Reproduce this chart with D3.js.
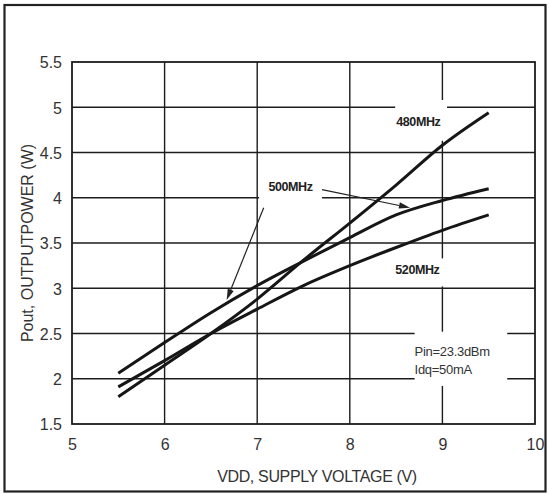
<!DOCTYPE html>
<html>
<head>
<meta charset="utf-8">
<script src="https://cdn.jsdelivr.net/npm/d3@7"></script>
<style>
html,body{margin:0;padding:0;background:#fff;}
svg{display:block;font-family:"Liberation Sans",Arial,sans-serif;}
</style>
</head>
<body>
<svg id="chart" width="549" height="494"></svg>
<script>
// ---- data ----
const vdd = [5.5, 6, 6.5, 7, 7.5, 8, 8.5, 9, 9.5];
const p480 = [1.80, 2.15, 2.50, 2.88, 3.31, 3.72, 4.14, 4.58, 4.94];
const p500 = [2.06, 2.40, 2.73, 3.03, 3.30, 3.56, 3.81, 3.97, 4.10];
const p520 = [1.91, 2.20, 2.50, 2.77, 3.03, 3.25, 3.45, 3.64, 3.81];
const xTicks = [5, 6, 7, 8, 9, 10];
const yTicks = [1.5, 2, 2.5, 3, 3.5, 4, 4.5, 5, 5.5];
const yTickLabels = ["1.5", "2", "2.5", "3", "3.5", "4", "4.5", "5", "5.5"];
const xTitle = "VDD, SUPPLY VOLTAGE (V)";
const yTitle = "Pout, OUTPUTPOWER (W)";
const seriesLabels = ["480MHz", "500MHz", "520MHz"];
const noteLines = ["Pin=23.3dBm", "Idq=50mA"];

// ---- layout ----
const svg = d3.select("#chart");
const x = d3.scaleLinear().domain([5, 10]).range([72, 535]);
const y = d3.scaleLinear().domain([1.5, 5.5]).range([424, 62]);
const ink = "#1c1c1c";

// outer frame
svg.append("rect").attr("x", 4.5).attr("y", 5).attr("width", 541).attr("height", 486.5)
  .attr("fill", "none").attr("stroke", "#222").attr("stroke-width", 2.2);

const g = svg.append("g");
// grid
g.selectAll("line.v").data(xTicks.slice(1, -1)).join("line")
  .attr("x1", d => x(d)).attr("x2", d => x(d)).attr("y1", y(5.5)).attr("y2", y(1.5))
  .attr("stroke", ink).attr("stroke-width", 1.4);
g.selectAll("line.h").data(yTicks.slice(1, -1)).join("line")
  .attr("x1", x(5)).attr("x2", x(10)).attr("y1", d => y(d)).attr("y2", d => y(d))
  .attr("stroke", ink).attr("stroke-width", 1.4);
g.append("rect").attr("x", x(5)).attr("y", y(5.5)).attr("width", x(10) - x(5)).attr("height", y(1.5) - y(5.5))
  .attr("fill", "none").attr("stroke", ink).attr("stroke-width", 1.8);

// axes (tick labels via d3 axis)
const xAxis = d3.axisBottom(x).tickValues(xTicks).tickSize(0).tickPadding(0).tickFormat(d3.format("d"));
const xa = svg.append("g").attr("transform", `translate(0,${y(1.5) + 26})`).call(xAxis);
xa.select(".domain").remove();
xa.selectAll("text").attr("font-size", 16).attr("fill", "#333").attr("font-family", "Liberation Sans, Arial, sans-serif").attr("dy", 0);

const yAxis = d3.axisLeft(y).tickValues(yTicks).tickSize(0).tickPadding(0).tickFormat((d, i) => yTickLabels[i]);
const ya = svg.append("g").attr("transform", `translate(${x(5) - 10},0)`).call(yAxis);
ya.select(".domain").remove();
ya.selectAll("text").attr("font-size", 16).attr("fill", "#333").attr("font-family", "Liberation Sans, Arial, sans-serif").attr("dy", "0.36em");

// axis titles
svg.append("text").attr("x", 317).attr("y", 482).attr("text-anchor", "middle")
  .attr("font-size", 16).attr("fill", "#333").attr("letter-spacing", -0.35).text(xTitle);
svg.append("text").attr("transform", "translate(33,243) rotate(-90)").attr("text-anchor", "middle")
  .attr("font-size", 16).attr("fill", "#333").attr("letter-spacing", 0).text(yTitle);

// white label boxes breaking the grid
const boxes = [
  [8.49, 5.08, 9.05, 4.63],
  [7.02, 4.25, 7.70, 3.97],
  [8.46, 3.33, 9.03, 3.02],
  [8.70, 2.52, 9.70, 1.92]
];
svg.selectAll("rect.box").data(boxes).join("rect")
  .attr("x", d => x(d[0])).attr("y", d => y(d[1]))
  .attr("width", d => x(d[2]) - x(d[0])).attr("height", d => y(d[3]) - y(d[1]))
  .attr("fill", "#fff");

// curves
const line = d3.line().x(d => x(d[0])).y(d => y(d[1])).curve(d3.curveMonotoneX);
[p480, p500, p520].forEach(s => {
  svg.append("path").attr("d", line(vdd.map((v, i) => [v, s[i]])))
    .attr("fill", "none").attr("stroke", "#161616").attr("stroke-width", 3).attr("stroke-linecap", "butt");
});

// arrows
const arrows = [
  [7.07, 3.89, 6.67, 2.87],
  [7.70, 4.09, 8.65, 3.89]
];
arrows.forEach(a => {
  const x1 = x(a[0]), y1 = y(a[1]), x2 = x(a[2]), y2 = y(a[3]);
  const ang = Math.atan2(y2 - y1, x2 - x1);
  const L = 11, W = 3.2;
  const bx = x2 - L * Math.cos(ang), by = y2 - L * Math.sin(ang);
  svg.append("line").attr("x1", x1).attr("y1", y1).attr("x2", bx).attr("y2", by)
    .attr("stroke", "#222").attr("stroke-width", 1.2);
  const px = -Math.sin(ang) * W, py = Math.cos(ang) * W;
  svg.append("path").attr("d", `M${x2},${y2}L${bx + px},${by + py}L${bx - px},${by - py}Z`).attr("fill", "#222");
});

// series labels
const labelPos = [[8.74, 4.84], [7.36, 4.12], [8.73, 3.21]];
svg.selectAll("text.sl").data(seriesLabels).join("text")
  .attr("x", (d, i) => x(labelPos[i][0])).attr("y", (d, i) => y(labelPos[i][1]))
  .attr("dy", "0.35em").attr("text-anchor", "middle")
  .attr("font-size", 12.5).attr("font-weight", "bold").attr("letter-spacing", -0.4)
  .attr("fill", "#222").text(d => d);

// note
svg.selectAll("text.note").data(noteLines).join("text")
  .attr("x", x(8.70)).attr("y", (d, i) => y(2.30) + i * 18)
  .attr("dy", "0.35em").attr("font-size", 13).attr("letter-spacing", -0.3)
  .attr("fill", "#333").text(d => d);
</script>
</body>
</html>
